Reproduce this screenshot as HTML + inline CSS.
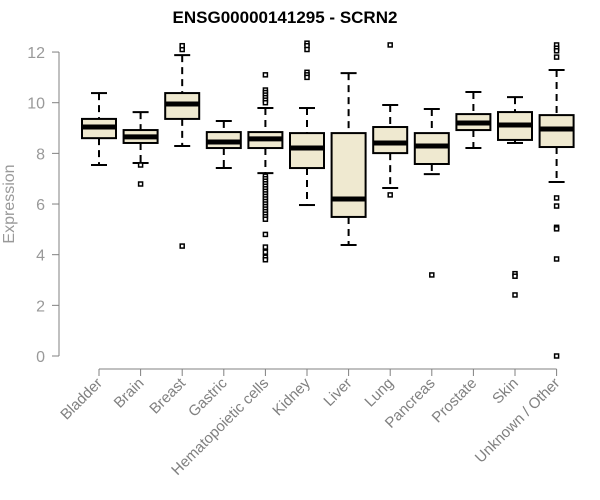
<!DOCTYPE html>
<html><head><meta charset="utf-8"><style>body{margin:0;background:#fff}svg{display:block;font-family:"Liberation Sans",Arial,sans-serif}</style></head>
<body>
<svg id="chart" width="600" height="500">
<text x="285" y="23" text-anchor="middle" font-weight="bold" font-size="17">ENSG00000141295 - SCRN2</text>
<text transform="translate(14,204) rotate(-90)" text-anchor="middle" font-size="16" fill="#999">Expression</text>
<g id="axes"></g><g id="boxes"></g>
</svg>
<script>
const categories=["Bladder","Brain","Breast","Gastric","Hematopoietic cells","Kidney","Liver","Lung","Pancreas","Prostate","Skin","Unknown / Other"];
const whiskerLow=[7.54,7.62,8.29,7.42,7.22,5.96,4.38,6.63,7.18,8.21,8.41,6.87];
const q1=[8.6,8.41,9.36,8.21,8.21,7.42,5.49,8.01,7.58,8.92,8.53,8.25];
const medians=[9.04,8.65,9.95,8.45,8.57,8.21,6.2,8.41,8.29,9.2,9.12,8.96];
const q3=[9.36,8.92,10.38,8.84,8.84,8.8,8.8,9.04,8.8,9.55,9.63,9.51];
const whiskerHigh=[10.38,9.63,11.88,9.28,9.79,9.79,11.17,9.91,9.75,10.42,10.22,11.29];
const outliers=[[],[7.54,6.79],[12.2,12.1,12.25,4.34],[],
[11.1,10.5,10.4,10.3,10.2,10.1,10.0,7.1,7.0,6.9,6.8,6.7,6.6,6.5,6.4,6.3,6.2,6.1,6.0,5.9,5.8,5.7,5.6,5.5,5.4,4.8,4.3,4.1,3.9,3.8],
[12.35,12.25,12.1,11.2,11.1,11.0],[],[12.28,6.36],[3.2],[],[3.25,3.15,2.41],
[12.28,12.15,12.05,11.8,6.24,5.92,5.08,5.02,3.83,0]];
const yTicks=[0,2,4,6,8,10,12];
const NS="http://www.w3.org/2000/svg";
const x0=99,dx=41.6,yb=356,ys=25.33;
const xs=i=>x0+i*dx, y=v=>yb-v*ys;
function mk(tag,at,parent){const e=document.createElementNS(NS,tag);for(const k in at)e.setAttribute(k,at[k]);parent.appendChild(e);return e;}
const ax=document.getElementById('axes'),bx=document.getElementById('boxes');
const yl=mk('line',{x1:59,x2:59,y1:y(12),y2:y(0),stroke:'#808080'},ax);


yTicks.forEach(t=>{
 const l=mk('line',{x1:52,x2:59,y1:y(t),y2:y(t),stroke:'#808080'},ax);
 
 
 const tx=mk('text',{x:45,y:y(t)+6,'text-anchor':'end','font-size':16,fill:'#999'},ax);
 tx.textContent=t;
 
 
});
const xl=mk('line',{x1:xs(0),x2:xs(categories.length-1),y1:369,y2:369,stroke:'#808080'},ax);


categories.forEach((c,i)=>{
 const cx=xs(i);
 const t=mk('line',{x1:cx,x2:cx,y1:369,y2:376,stroke:'#808080'},ax);
 
 
 const tx=mk('text',{transform:`translate(${cx+4},${384}) rotate(-45)`,'text-anchor':'end','font-size':15,fill:'#808080'},ax);
 tx.textContent=c;
 
 
 const g=mk('g',{},bx);
 
 
 const st={stroke:'#000','stroke-width':2};
 mk('line',Object.assign({x1:cx,x2:cx,y1:y(whiskerHigh[i]),y2:y(q3[i]),'stroke-dasharray':'7,5'},st),g);
 mk('line',Object.assign({x1:cx,x2:cx,y1:y(q1[i]),y2:y(whiskerLow[i]),'stroke-dasharray':'7,5'},st),g);
 mk('line',Object.assign({x1:cx-8,x2:cx+8,y1:y(whiskerHigh[i]),y2:y(whiskerHigh[i])},st),g);
 mk('line',Object.assign({x1:cx-8,x2:cx+8,y1:y(whiskerLow[i]),y2:y(whiskerLow[i])},st),g);
 mk('rect',Object.assign({x:cx-17,y:y(q3[i]),width:34,height:y(q1[i])-y(q3[i]),fill:'#efe9d0'},st),g);
 mk('line',{x1:cx-17,x2:cx+17,y1:y(medians[i]),y2:y(medians[i]),stroke:'#000','stroke-width':5},g);
 outliers[i].forEach(v=>{mk('rect',{x:cx-2,y:y(v)-2,width:4,height:4,fill:'#fff',stroke:'#000','stroke-width':1.5},g);});
});
</script>
</body></html>
